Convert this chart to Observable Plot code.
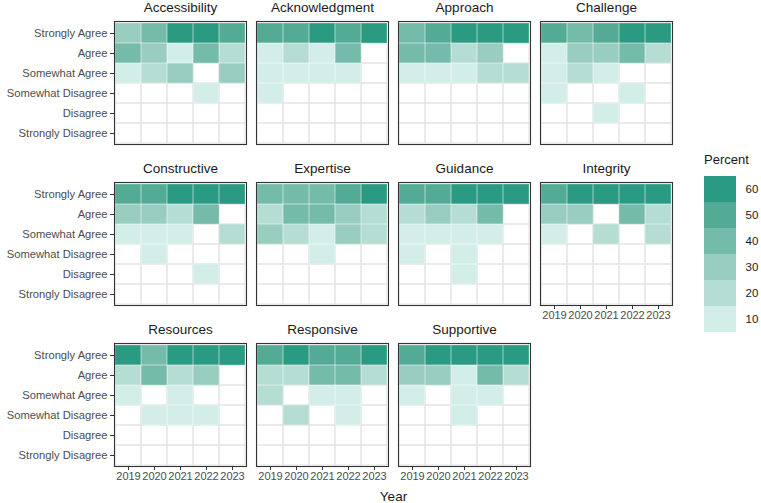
<!DOCTYPE html>
<html>
<head>
<meta charset="utf-8">
<script src="https://cdn.jsdelivr.net/npm/d3@7"></script>
<script src="https://cdn.jsdelivr.net/npm/@observablehq/plot@0.6"></script>
<style>
  body { margin: 0; background: #fff; }
  #wrap { position: relative; width: 761px; height: 503px; font-family: "Liberation Sans", Arial, sans-serif; overflow: hidden; }
  #wrap svg { position: absolute; }
  .lbl { position: absolute; color: #1a1a1a; white-space: nowrap; line-height: 1; }
</style>
</head>
<body>
<div id="wrap"></div>
<script>
// Survey topics, laid out 4 per row
const topics = ["Accessibility", "Acknowledgment", "Approach", "Challenge",
                "Constructive", "Expertise", "Guidance", "Integrity",
                "Resources", "Responsive", "Supportive"];
const years = ["2019", "2020", "2021", "2022", "2023"];
const responses = ["Strongly Agree", "Agree", "Somewhat Agree",
                   "Somewhat Disagree", "Disagree", "Strongly Disagree"];
const legendTicks = [10, 20, 30, 40, 50, 60];

// Percent of respondents: one row per response, one column per year (0 = no responses)
const accessibility = [
  [33, 38, 62, 58, 47],
  [42, 31, 12, 36, 22],
  [13, 24, 28, 0, 31],
  [0, 0, 0, 8, 0],
  [0, 0, 0, 0, 0],
  [0, 0, 0, 0, 0]];
const acknowledgment = [
  [53, 50, 63, 48, 64],
  [13, 22, 14, 38, 0],
  [12, 11, 12, 10, 0],
  [9, 0, 0, 0, 0],
  [0, 0, 0, 0, 0],
  [0, 0, 0, 0, 0]];
const approach = [
  [41, 47, 58, 62, 61],
  [39, 37, 23, 30, 0],
  [14, 12, 13, 18, 21],
  [0, 0, 0, 0, 0],
  [0, 0, 0, 0, 0],
  [0, 0, 0, 0, 0]];
const challenge = [
  [49, 40, 46, 57, 60],
  [12, 29, 31, 36, 24],
  [13, 21, 11, 0, 0],
  [10, 0, 0, 7, 0],
  [0, 0, 9, 0, 0],
  [0, 0, 0, 0, 0]];
const constructive = [
  [50, 47, 61, 56, 63],
  [31, 33, 22, 39, 0],
  [12, 11, 14, 0, 21],
  [0, 9, 0, 0, 0],
  [0, 0, 0, 6, 0],
  [0, 0, 0, 0, 0]];
const expertise = [
  [42, 40, 41, 47, 58],
  [21, 38, 37, 30, 22],
  [29, 19, 12, 27, 20],
  [0, 0, 10, 0, 0],
  [0, 0, 0, 0, 0],
  [0, 0, 0, 0, 0]];
const guidance = [
  [48, 52, 62, 57, 64],
  [24, 30, 20, 38, 0],
  [11, 13, 12, 14, 0],
  [8, 0, 7, 0, 0],
  [0, 0, 6, 0, 0],
  [0, 0, 0, 0, 0]];
const integrity = [
  [48, 61, 65, 58, 62],
  [33, 29, 0, 39, 21],
  [12, 0, 24, 0, 19],
  [0, 0, 0, 0, 0],
  [0, 0, 0, 0, 0],
  [0, 0, 0, 0, 0]];
const resources = [
  [60, 38, 59, 56, 63],
  [22, 43, 24, 31, 0],
  [11, 0, 10, 0, 0],
  [0, 13, 9, 11, 0],
  [0, 0, 0, 0, 0],
  [0, 0, 0, 0, 0]];
const responsive = [
  [49, 60, 46, 51, 62],
  [20, 23, 39, 38, 21],
  [22, 0, 13, 11, 0],
  [0, 17, 0, 9, 0],
  [0, 0, 0, 0, 0],
  [0, 0, 0, 0, 0]];
const supportive = [
  [47, 58, 62, 59, 64],
  [30, 28, 13, 40, 22],
  [12, 0, 11, 12, 0],
  [0, 0, 10, 0, 0],
  [0, 0, 0, 0, 0],
  [0, 0, 0, 0, 0]];

const tables = [accessibility, acknowledgment, approach, challenge,
                constructive, expertise, guidance, integrity,
                resources, responsive, supportive];

// Long-format table: one record per topic × response × year
const cells = [];
topics.forEach((topic, i) => {
  tables[i].forEach((vals, r) => {
    vals.forEach((v, c) => {
      cells.push({topic, col: i % 4, row: Math.floor(i / 4),
                  response: responses[r], year: years[c], value: v});
    });
  });
});
const panels = topics.map((topic, i) => ({topic, col: i % 4, row: Math.floor(i / 4)}));
const filled = cells.filter(d => d.value > 0);

const font = '"Liberation Sans", Arial, sans-serif';
const color = {
  type: "threshold",
  domain: [15, 25, 35, 45, 55],
  range: ["#d3eee9", "#b5ddd3", "#98cdbf", "#75bba9", "#53ab96", "#2a9a82"]
};
const facet = {fx: "col", fy: "row", x: "year", y: "response"};

const chart = Plot.plot({
  width: 761,
  height: 503,
  marginLeft: 113,
  marginRight: 87,
  marginTop: 20,
  marginBottom: 37,
  style: {fontFamily: font, fontSize: "11px", background: "transparent"},
  fx: {domain: [0, 1, 2, 3], paddingInner: 0.069, paddingOuter: 0, axis: null, label: null},
  fy: {domain: [0, 1, 2], paddingInner: 0.238, paddingOuter: 0, axis: null, label: null},
  x: {domain: years, padding: 0, label: null},
  y: {domain: responses, padding: 0, label: null},
  color,
  marks: [
    Plot.cell(cells, {...facet, fill: "none", stroke: "#e3e3e3", strokeWidth: 1, inset: 0}),
    Plot.cell(filled, {...facet, fill: "value", inset: 0}),
    Plot.cell(filled, {...facet, fill: "none", stroke: "white", strokeOpacity: 0.3, strokeWidth: 1, inset: 0}),
    Plot.frame({stroke: "#333", strokeWidth: 1.1}),
    Plot.axisX({facetAnchor: "bottom-empty", tickSize: 4, tickPadding: 2, label: null,
                stroke: "#333", fill: "#4d4d4d", fontSize: 11}),
    Plot.axisY({facetAnchor: "left", tickSize: 4, tickPadding: 3, label: null,
                stroke: "#333", fill: "#4d4d4d", fontSize: 11.2}),
    Plot.text(panels, {fx: "col", fy: "row", text: "topic", frameAnchor: "top",
                       lineAnchor: "middle", dy: -14, fontSize: 13.5, fill: "#1a1a1a"})
  ]
});

// Stepped colour legend
const legend = Plot.plot({
  width: 57,
  height: 159,
  marginTop: 0,
  marginBottom: 0,
  marginLeft: 0,
  marginRight: 25,
  style: {fontFamily: font, fontSize: "11.5px", background: "transparent"},
  y: {domain: [...legendTicks].reverse(), padding: 0, label: null},
  color,
  marks: [
    Plot.cell(legendTicks, {y: d => d, fill: d => d, inset: 0}),
    Plot.axisY({anchor: "right", tickSize: 0, tickPadding: 9, label: null, fill: "#1a1a1a", fontSize: 11.5})
  ]
});

const wrap = document.getElementById("wrap");
chart.style.left = "0px";
chart.style.top = "0px";
wrap.appendChild(chart);
legend.style.left = "704px";
legend.style.top = "174px";
wrap.appendChild(legend);

const title = document.createElement("div");
title.className = "lbl";
title.textContent = "Percent";
title.style.cssText += "left:704px;top:153px;font-size:13px;";
wrap.appendChild(title);

const xTitle = document.createElement("div");
xTitle.className = "lbl";
xTitle.textContent = "Year";
xTitle.style.cssText += "left:393.5px;top:490px;font-size:13.5px;transform:translateX(-50%);";
wrap.appendChild(xTitle);
</script>
</body>
</html>
